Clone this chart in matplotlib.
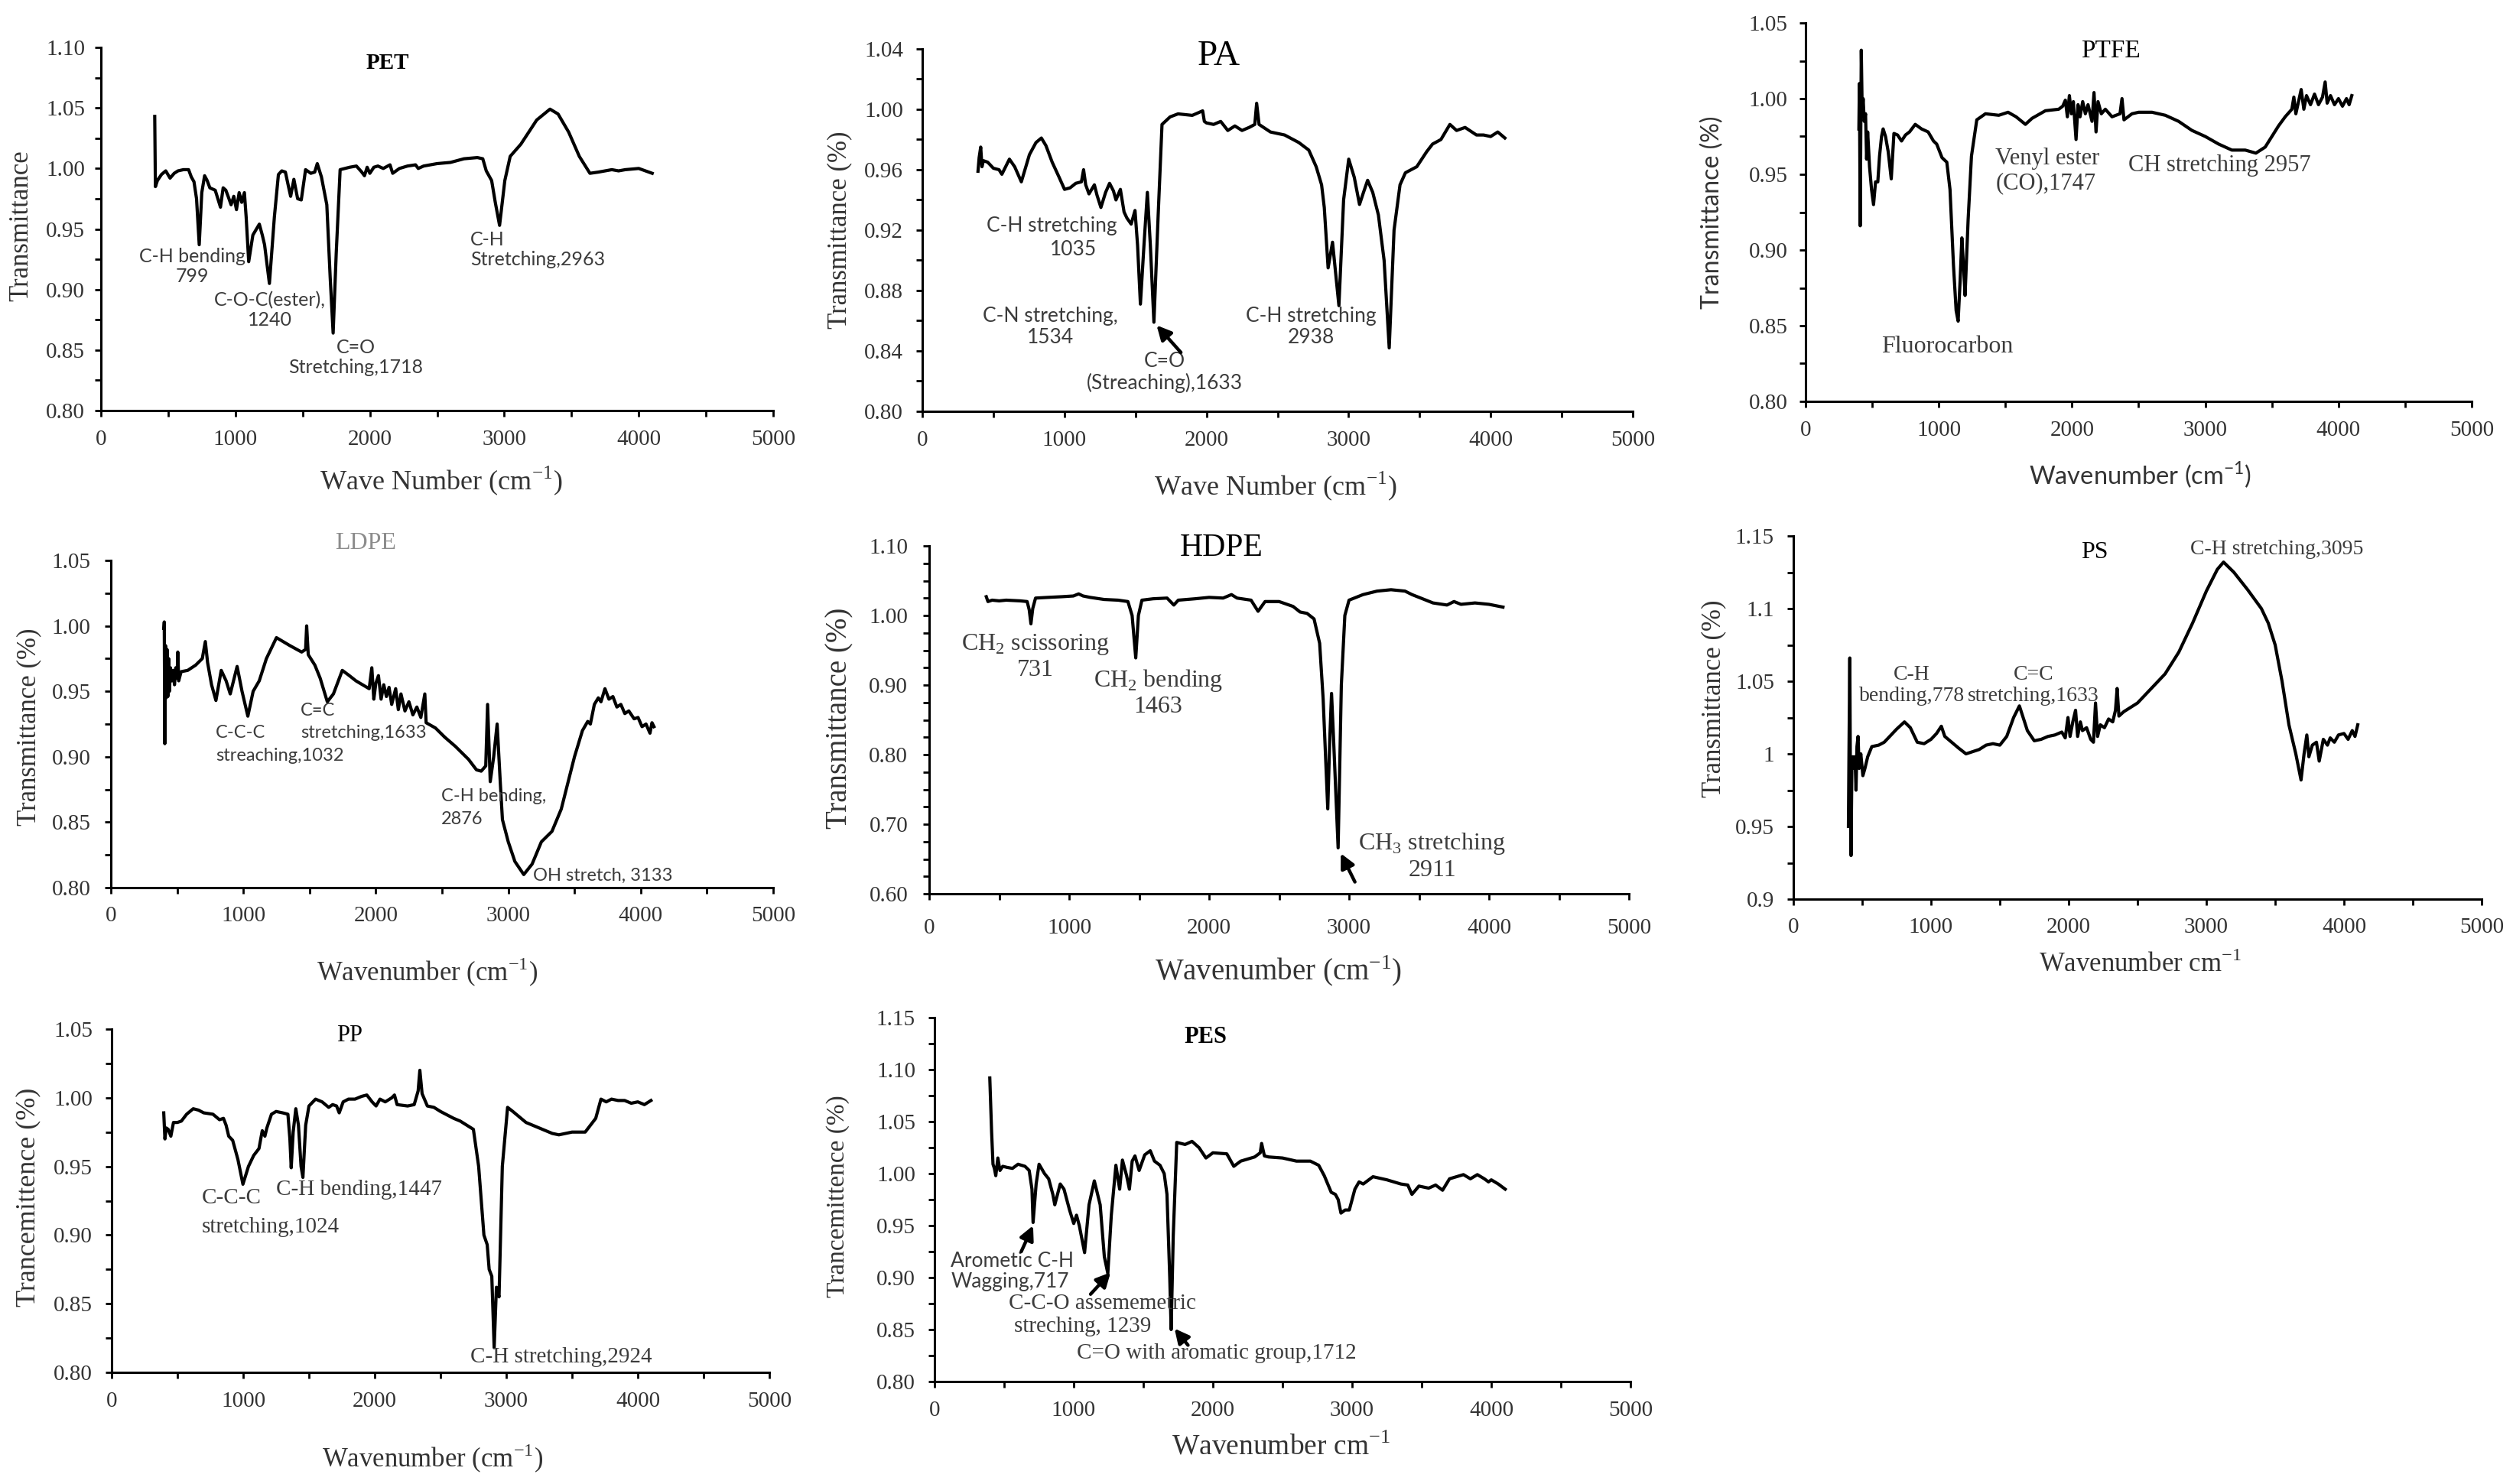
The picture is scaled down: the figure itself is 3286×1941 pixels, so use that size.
import matplotlib
matplotlib.use("Agg")
import matplotlib.pyplot as plt
from matplotlib.ticker import FixedLocator, FixedFormatter, MultipleLocator

W, H, DPI = 3287, 1941, 100
SERIF = ["Liberation Serif", "DejaVu Serif"]
SANS = ["Lato", "DejaVu Sans"]
plt.rcParams["font.family"] = SERIF

# ---------------------------------------------------------------- data
X_TICKS = [0, 1000, 2000, 3000, 4000, 5000]
X_TICK_LABELS = ["0", "1000", "2000", "3000", "4000", "5000"]

PET_WN = [400, 405, 420, 450, 482, 514, 545, 573, 613, 652, 672, 692, 711, 731, 750, 771, 790, 810, 850, 889,
          909, 929, 949, 968, 988, 1008, 1028, 1047, 1067, 1080, 1099, 1130, 1178, 1200, 1217, 1253, 1290, 1320,
          1345, 1372, 1395, 1411, 1435, 1463, 1490, 1522, 1561, 1590, 1609, 1640, 1680, 1705, 1727, 1750, 1779,
          1850, 1900, 1940, 1960, 1980, 2000, 2030, 2060, 2100, 2150, 2170, 2220, 2280, 2340, 2360, 2400, 2500,
          2600, 2700, 2800, 2840, 2866, 2906, 2933, 2965, 3004, 3044, 3123, 3241, 3340, 3400, 3479, 3558, 3637,
          3700, 3750, 3800, 3850, 3900, 4000, 4050, 4100]
PET_T = [1.043, 0.985, 0.990, 0.995, 0.998, 0.992, 0.996, 0.998, 0.999, 0.999, 0.993, 0.989, 0.975, 0.937, 0.980,
         0.994, 0.990, 0.984, 0.982, 0.968, 0.984, 0.982, 0.976, 0.970, 0.977, 0.966, 0.980, 0.972, 0.980, 0.960,
         0.923, 0.945, 0.954, 0.945, 0.937, 0.905, 0.960, 0.995, 0.998, 0.997, 0.985, 0.977, 0.991, 0.975, 0.974,
         0.999, 0.996, 0.997, 1.004, 0.993, 0.970, 0.910, 0.864, 0.930, 0.999, 1.001, 1.002, 0.997, 0.994, 1.001,
         0.996, 1.001, 1.002, 1.000, 1.003, 0.996, 1.000, 1.002, 1.003, 1.000, 1.002, 1.004, 1.005, 1.008, 1.009,
         1.008, 0.998, 0.990, 0.972, 0.953, 0.990, 1.010, 1.020, 1.040, 1.049, 1.045, 1.030, 1.010, 0.996, 0.997,
         0.998, 0.999, 0.998, 0.999, 1.000, 0.998, 0.996]

PA_WN = [392, 400, 411, 420, 430, 460, 500, 540, 560, 613, 650, 697, 754, 800, 838, 870, 914, 963, 1001, 1040,
         1080, 1120, 1135, 1150, 1173, 1211, 1230, 1257, 1290, 1318, 1345, 1363, 1394, 1420, 1440, 1470, 1497, 1515,
         1535, 1560, 1584, 1605, 1630, 1660, 1687, 1744, 1800, 1900, 1973, 1985, 2000, 2050, 2100, 2150, 2200,
         2250, 2300, 2340, 2353, 2370, 2450, 2550, 2650, 2720, 2772, 2810, 2829, 2856, 2887, 2932, 2965, 3001,
         3040, 3077, 3105, 3134, 3170, 3210, 3250, 3286, 3320, 3362, 3400, 3480, 3550, 3591, 3650, 3713, 3760,
         3820, 3900, 3950, 4000, 4050, 4100]
PA_T = [0.959, 0.968, 0.975, 0.962, 0.966, 0.965, 0.961, 0.960, 0.957, 0.967, 0.962, 0.952, 0.970, 0.978, 0.981,
        0.976, 0.965, 0.955, 0.947, 0.948, 0.951, 0.952, 0.960, 0.950, 0.944, 0.950, 0.943, 0.935, 0.945, 0.951,
        0.946, 0.940, 0.947, 0.932, 0.928, 0.924, 0.933, 0.910, 0.871, 0.910, 0.945, 0.910, 0.859, 0.930, 0.990,
        0.995, 0.997, 0.996, 0.999, 0.992, 0.991, 0.990, 0.992, 0.986, 0.989, 0.986, 0.988, 0.990, 1.004, 0.990,
        0.985, 0.983, 0.978, 0.973, 0.962, 0.950, 0.935, 0.895, 0.912, 0.870, 0.940, 0.967, 0.955, 0.937, 0.945,
        0.953, 0.945, 0.930, 0.900, 0.842, 0.920, 0.950, 0.958, 0.962, 0.972, 0.977, 0.980, 0.990, 0.986, 0.988,
        0.983, 0.983, 0.982, 0.985, 0.981]

PTFE_WN = [400, 404, 410, 418, 425, 432, 440, 450, 458, 466, 480, 495, 510, 525, 542, 555, 570, 582, 600, 620,
           643, 663, 690, 720, 750, 780, 823, 870, 920, 960, 984, 1024, 1060, 1084, 1110, 1130, 1145, 1160, 1173,
           1185, 1197, 1220, 1245, 1285, 1350, 1450, 1520, 1580, 1650, 1700, 1800, 1900, 1930, 1950, 1965, 1980,
           1995, 2010, 2030, 2045, 2060, 2080, 2100, 2120, 2150, 2165, 2180, 2195, 2220, 2250, 2300, 2360, 2375,
           2390, 2450, 2500, 2600, 2700, 2800, 2900, 3000, 3100, 3200, 3300, 3380, 3450, 3500, 3550, 3600, 3650,
           3665, 3680, 3700, 3720, 3740, 3760, 3790, 3820, 3850, 3880, 3900, 3915, 3940, 3970, 4000, 4030, 4060,
           4080, 4100]
PTFE_T = [0.980, 1.010, 0.916, 1.032, 0.990, 1.000, 0.985, 0.990, 0.960, 0.978, 0.955, 0.940, 0.930, 0.945, 0.945,
          0.962, 0.975, 0.980, 0.975, 0.965, 0.947, 0.977, 0.976, 0.972, 0.976, 0.978, 0.983, 0.980, 0.978, 0.972,
          0.970, 0.961, 0.958, 0.940, 0.890, 0.860, 0.853, 0.880, 0.908, 0.890, 0.870, 0.920, 0.962, 0.986, 0.990,
          0.989, 0.991, 0.988, 0.983, 0.987, 0.992, 0.993, 0.995, 0.999, 0.988, 1.002, 0.990, 0.998, 0.973, 0.996,
          0.988, 0.998, 0.990, 0.996, 0.985, 1.004, 0.978, 0.998, 0.990, 0.993, 0.988, 0.990, 1.000, 0.986, 0.990,
          0.991, 0.991, 0.989, 0.985, 0.979, 0.975, 0.970, 0.966, 0.966, 0.964, 0.968, 0.975, 0.982, 0.988, 0.993,
          1.001, 0.990, 0.998, 1.006, 0.993, 1.002, 0.996, 1.003, 0.996, 1.001, 1.011, 0.997, 1.002, 0.996, 1.000,
          0.995, 1.000, 0.996, 1.002]

LDPE_WN = [400, 403, 407, 412, 418, 424, 430, 436, 442, 450, 460, 470, 480, 490, 500, 505, 512, 530, 580, 640, 690,
           713, 730, 760, 793, 833, 870, 901, 953, 990, 1034, 1074, 1120, 1174, 1250, 1350, 1440, 1470, 1478, 1490,
           1540, 1580, 1634, 1680, 1747, 1800, 1850, 1900, 1950, 1970, 1985, 2000, 2020, 2040, 2060, 2080, 2100,
           2120, 2150, 2170, 2190, 2220, 2250, 2280, 2310, 2340, 2370, 2380, 2450, 2520, 2600, 2700, 2760, 2796,
           2830, 2844, 2864, 2890, 2916, 2940, 2956, 3000, 3050, 3117, 3180, 3250, 3330, 3400, 3450, 3500, 3560,
           3600, 3620, 3650, 3680, 3700, 3730, 3760, 3790, 3820, 3850, 3880, 3910, 3950, 3980, 4010, 4040, 4070,
           4085, 4100]
LDPE_T = [0.998, 1.003, 0.910, 0.985, 0.945, 0.982, 0.946, 0.975, 0.950, 0.968, 0.958, 0.966, 0.955, 0.968, 0.960,
          0.980, 0.958, 0.965, 0.966, 0.970, 0.975, 0.988, 0.972, 0.955, 0.943, 0.966, 0.958, 0.948, 0.969, 0.950,
          0.931, 0.950, 0.958, 0.975, 0.991, 0.985, 0.980, 0.982, 1.000, 0.978, 0.970, 0.960, 0.942, 0.948, 0.966,
          0.962, 0.958, 0.955, 0.952, 0.968, 0.944, 0.956, 0.962, 0.944, 0.955, 0.946, 0.953, 0.940, 0.952, 0.936,
          0.948, 0.935, 0.942, 0.932, 0.938, 0.930, 0.948, 0.926, 0.922, 0.915, 0.908, 0.898, 0.890, 0.889, 0.893,
          0.940, 0.881, 0.900, 0.925, 0.880, 0.852, 0.835, 0.820, 0.810, 0.818, 0.835, 0.843, 0.860, 0.880, 0.900,
          0.920, 0.927, 0.925, 0.940, 0.945, 0.942, 0.952, 0.944, 0.946, 0.938, 0.940, 0.933, 0.935, 0.929, 0.930,
          0.923, 0.925, 0.918, 0.926, 0.923]

HDPE_WN = [408, 420, 450, 500, 550, 650, 700, 715, 727, 740, 760, 850, 950, 1030, 1068, 1100, 1150, 1250, 1350,
           1420, 1450, 1476, 1495, 1520, 1600, 1700, 1748, 1780, 1900, 2000, 2100, 2160, 2200, 2300, 2350, 2400,
           2500, 2600, 2650, 2700, 2750, 2790, 2815, 2848, 2862, 2875, 2890, 2922, 2945, 2970, 3000, 3100, 3200,
           3300, 3400, 3450, 3550, 3600, 3700, 3750, 3800, 3900, 4000, 4100]
HDPE_T = [1.027, 1.020, 1.022, 1.021, 1.022, 1.021, 1.020, 1.008, 0.988, 1.010, 1.025, 1.026, 1.027, 1.028, 1.031,
          1.028, 1.026, 1.023, 1.022, 1.020, 1.000, 0.939, 1.000, 1.022, 1.024, 1.025, 1.015, 1.022, 1.024, 1.026,
          1.025, 1.030, 1.025, 1.022, 1.006, 1.020, 1.020, 1.013, 1.005, 1.003, 0.995, 0.960, 0.880, 0.722, 0.820,
          0.888, 0.820, 0.666, 0.900, 1.000, 1.022, 1.030, 1.035, 1.037, 1.035, 1.030, 1.022, 1.018, 1.015, 1.020,
          1.016, 1.018, 1.016, 1.012]

PS_WN = [400, 404, 410, 414, 419, 425, 432, 440, 448, 455, 462, 470, 478, 490, 505, 520, 540, 570, 620, 660, 700,
         750, 807, 850, 900, 950, 1000, 1040, 1075, 1100, 1150, 1200, 1254, 1350, 1400, 1450, 1500, 1550, 1600,
         1642, 1700, 1750, 1800, 1850, 1900, 1950, 1975, 1995, 2010, 2030, 2050, 2065, 2085, 2100, 2130, 2160,
         2180, 2195, 2210, 2230, 2260, 2290, 2320, 2340, 2352, 2365, 2400, 2500, 2600, 2700, 2800, 2900, 3000,
         3080, 3125, 3200, 3300, 3400, 3450, 3500, 3550, 3600, 3650, 3688, 3710, 3730, 3745, 3770, 3800, 3820,
         3850, 3880, 3900, 3930, 3960, 4000, 4030, 4060, 4080, 4100]
PS_T = [0.950, 1.000, 1.066, 0.990, 0.930, 0.990, 0.998, 0.990, 0.998, 0.975, 1.005, 1.012, 0.990, 1.000, 0.985,
        0.990, 0.998, 1.005, 1.006, 1.008, 1.012, 1.017, 1.022, 1.018, 1.008, 1.007, 1.010, 1.014, 1.019, 1.012,
        1.008, 1.004, 1.000, 1.003, 1.006, 1.007, 1.006, 1.012, 1.025, 1.033, 1.016, 1.009, 1.010, 1.012, 1.013,
        1.015, 1.011, 1.025, 1.012, 1.022, 1.030, 1.012, 1.022, 1.016, 1.018, 1.010, 1.008, 1.035, 1.012, 1.020,
        1.018, 1.024, 1.022, 1.030, 1.045, 1.026, 1.029, 1.035, 1.045, 1.055, 1.070, 1.090, 1.112, 1.127, 1.132,
        1.125, 1.113, 1.100, 1.090, 1.075, 1.050, 1.020, 1.000, 0.982, 1.000, 1.013, 0.998, 1.006, 1.008, 0.995,
        1.010, 1.006, 1.011, 1.008, 1.013, 1.014, 1.010, 1.016, 1.012, 1.020]

PP_WN = [396, 405, 415, 430, 450, 470, 500, 530, 570, 620, 660, 700, 770, 820, 850, 870, 890, 920, 960, 998, 1040,
         1080, 1120, 1145, 1165, 1180, 1215, 1250, 1300, 1340, 1355, 1365, 1380, 1400, 1420, 1440, 1454, 1475,
         1500, 1550, 1600, 1650, 1680, 1710, 1730, 1760, 1800, 1850, 1900, 1940, 1980, 2010, 2040, 2080, 2130,
         2150, 2170, 2250, 2300, 2330, 2343, 2360, 2400, 2450, 2500, 2600, 2650, 2700, 2750, 2790, 2830, 2855,
         2870, 2890, 2908, 2925, 2945, 2970, 3010, 3050, 3150, 3250, 3350, 3400, 3500, 3600, 3680, 3720, 3760,
         3800, 3850, 3900, 3950, 4000, 4050, 4100]
PP_T = [0.989, 0.970, 0.978, 0.977, 0.972, 0.982, 0.982, 0.983, 0.988, 0.992, 0.991, 0.989, 0.988, 0.984, 0.985,
        0.980, 0.972, 0.969, 0.955, 0.937, 0.950, 0.958, 0.963, 0.976, 0.972, 0.978, 0.988, 0.990, 0.989, 0.988,
        0.970, 0.949, 0.975, 0.992, 0.980, 0.950, 0.942, 0.980, 0.994, 0.999, 0.997, 0.993, 0.995, 0.994, 0.989,
        0.997, 0.999, 0.999, 1.001, 1.002, 0.997, 0.994, 0.999, 0.997, 1.000, 1.002, 0.995, 0.994, 0.995, 1.005,
        1.020, 1.003, 0.994, 0.993, 0.990, 0.985, 0.983, 0.980, 0.977, 0.950, 0.900, 0.893, 0.875, 0.870, 0.818,
        0.862, 0.855, 0.950, 0.993, 0.990, 0.982, 0.978, 0.974, 0.973, 0.975, 0.975, 0.985, 0.999, 0.997, 0.999,
        0.998, 0.998, 0.996, 0.997, 0.995, 0.998]

PES_WN = [397, 410, 420, 430, 440, 455, 470, 490, 520, 560, 600, 650, 680, 700, 708, 730, 751, 790, 820, 850, 864,
          903, 930, 970, 1000, 1020, 1040, 1078, 1110, 1148, 1190, 1220, 1245, 1270, 1303, 1330, 1350, 1380, 1400,
          1420, 1440, 1470, 1510, 1550, 1580, 1620, 1650, 1670, 1690, 1700, 1715, 1740, 1800, 1850, 1900, 1950,
          2000, 2100, 2150, 2200, 2300, 2340, 2350, 2370, 2400, 2500, 2600, 2700, 2760, 2800, 2850, 2880, 2900,
          2920, 2950, 2980, 3020, 3050, 3080, 3150, 3250, 3350, 3400, 3430, 3480, 3550, 3600, 3650, 3700, 3800,
          3850, 3900, 3950, 3980, 4000, 4050, 4100]
PES_T = [1.092, 1.040, 1.009, 1.005, 0.998, 1.015, 1.003, 1.007, 1.006, 1.005, 1.009, 1.007, 1.003, 0.985, 0.953,
         0.990, 1.009, 1.000, 0.995, 0.980, 0.970, 0.990, 0.985, 0.965, 0.952, 0.960, 0.950, 0.924, 0.970, 0.993,
         0.970, 0.920, 0.904, 0.960, 1.008, 0.985, 1.013, 0.998, 0.985, 1.012, 1.017, 1.003, 1.018, 1.022, 1.012,
         1.008, 1.000, 0.980, 0.900, 0.850, 0.940, 1.030, 1.028, 1.031, 1.025, 1.015, 1.020, 1.019, 1.007, 1.012,
         1.016, 1.020, 1.029, 1.017, 1.016, 1.015, 1.012, 1.012, 1.008, 0.998, 0.982, 0.980, 0.975, 0.962, 0.965,
         0.965, 0.985, 0.992, 0.990, 0.997, 0.994, 0.990, 0.989, 0.980, 0.988, 0.986, 0.989, 0.984, 0.995, 0.999,
         0.995, 0.999, 0.995, 0.992, 0.994, 0.990, 0.985]

PET_YTICKS = [0.80, 0.85, 0.90, 0.95, 1.00, 1.05, 1.10]
PA_YTICKS = [0.80, 0.84, 0.88, 0.92, 0.96, 1.00, 1.04]
PTFE_YTICKS = [0.80, 0.85, 0.90, 0.95, 1.00, 1.05]
LDPE_YTICKS = [0.80, 0.85, 0.90, 0.95, 1.00, 1.05]
HDPE_YTICKS = [0.60, 0.70, 0.80, 0.90, 1.00, 1.10]
PS_YTICKS = [0.90, 0.95, 1.00, 1.05, 1.10, 1.15]
PP_YTICKS = [0.80, 0.85, 0.90, 0.95, 1.00, 1.05]
PES_YTICKS = [0.80, 0.85, 0.90, 0.95, 1.00, 1.05, 1.10, 1.15]
PS_YTICK_LABELS = ["0.9", "0.95", "1", "1.05", "1.1", "1.15"]

CM = r"cm$^{\mathregular{-1}}$"
ANN_C = "#3c3c3c"
TXT_C = "#333333"

# ---------------------------------------------------------------- panels
panels = [
    dict(wn=PET_WN, t=PET_T, yt=PET_YTICKS, ytl=None, ymin=0.025, box=(132, 62, 1011, 537), ypad=9, xpad=12,
         title=("PET", 507, 82, 21, "bold", "black"),
         xl=("Wave Number (" + CM + ")", 577, 629, 26, SERIF),
         yl=("Transmittance", 28, 295, 25, SERIF),
         ann=[("C-H bending\n799", 680, 0.919, "center", 18, SANS),
              ("C-O-C(ester),\n1240", 1257, 0.883, "center", 18, SANS),
              ("C=O\nStretching,1718", 1897, 0.844, "center", 18, SANS),
              ("C-H\nStretching,2963", 2747, 0.933, "left", 18, SANS)],
         arrows=[]),
    dict(wn=PA_WN, t=PA_T, yt=PA_YTICKS, ytl=None, ymin=0.02, box=(1206, 64, 2135, 538), ypad=12, xpad=12,
         title=("PA", 1594, 74, 34, "normal", "black"),
         xl=("Wave Number (" + CM + ")", 1668, 636, 26, SERIF),
         yl=("Transmittance (%)", 1098, 301, 25, SERIF),
         ann=[("C-H stretching", 910, 0.923, "center", 19, SANS),
              ("1035", 1063, 0.907, "center", 19, SANS),
              ("C-N stretching,\n1534", 899, 0.856, "center", 19, SANS),
              ("C=O\n(Streaching),1633", 1706, 0.826, "center", 19, SANS),
              ("C-H stretching\n2938", 2738, 0.856, "center", 19, SANS)],
         arrows=[((1649, 0.857), (1820, 0.839))]),
    dict(wn=PTFE_WN, t=PTFE_T, yt=PTFE_YTICKS, ytl=None, ymin=0.025, box=(2361, 30, 3232, 525), ypad=11, xpad=12,
         title=("PTFE", 2760, 67, 24, "normal", "black"),
         xl=("Wavenumber (" + CM + ")", 2799, 621, 23.5, SANS),
         yl=("Transmittance (%)", 2239, 278, 23, SANS),
         ann=[("Fluorocarbon", 1064, 0.836, "center", 23, SERIF),
              ("Venyl ester\n(CO),1747", 1426, 0.952, "left", 22, SERIF),
              ("CH stretching 2957", 2422, 0.956, "left", 22, SERIF)],
         arrows=[]),
    dict(wn=LDPE_WN, t=LDPE_T, yt=LDPE_YTICKS, ytl=None, ymin=0.025, box=(145, 733, 1011, 1161), ypad=13, xpad=11,
         title=("LDPE", 478, 711, 23, "normal", "#8c8c8c"),
         xl=("Wavenumber (" + CM + ")", 559, 1272, 25, SERIF),
         yl=("Transmittance (%)", 38, 951, 25, SERIF),
         ann=[("C-C-C", 793, 0.918, "left", 17, SANS),
              ("streaching,1032", 793, 0.901, "left", 17, SANS),
              ("C=C", 1434, 0.9355, "left", 17, SANS),
              ("stretching,1633", 1434, 0.918, "left", 17, SANS),
              ("C-H bending,", 2496, 0.870, "left", 17, SANS),
              ("2876", 2496, 0.852, "left", 17, SANS),
              ("OH stretch, 3133", 3189, 0.809, "left", 17, SANS)],
         arrows=[]),
    dict(wn=HDPE_WN, t=HDPE_T, yt=HDPE_YTICKS, ytl=None, ymin=0.025, box=(1215, 714, 2130, 1169), ypad=14, xpad=17,
         title=("HDPE", 1597, 717, 30, "normal", "black"),
         xl=("Wavenumber (" + CM + ")", 1672, 1270, 28, SERIF),
         yl=("Transmittance (%)", 1098, 939, 28, SERIF),
         ann=[("CH$_\\mathregular{2}$ scissoring\n731", 761, 0.941, "center", 23, SERIF),
              ("CH$_\\mathregular{2}$ bending\n1463", 1636, 0.889, "center", 23, SERIF),
              ("CH$_\\mathregular{3}$ stretching\n2911", 3594, 0.654, "center", 23, SERIF)],
         arrows=[((2941, 0.658), (3042, 0.617))]),
    dict(wn=PS_WN, t=PS_T, yt=PS_YTICKS, ytl=PS_YTICK_LABELS, ymin=0.025, box=(2345, 701, 3245, 1176), ypad=12,
         xpad=11,
         title=("PS", 2739, 722, 23, "normal", "black"),
         xl=("Wavenumber " + CM, 2799, 1262, 25, SERIF),
         yl=("Transmittance (%)", 2241, 914, 25, SERIF),
         ann=[("C-H\nbending,778", 860, 1.047, "center", 20, SERIF),
              ("C=C\nstretching,1633", 1744, 1.047, "center", 20, SERIF),
              ("C-H stretching,3095", 3513, 1.141, "center", 20, SERIF)],
         arrows=[]),
    dict(wn=PP_WN, t=PP_T, yt=PP_YTICKS, ytl=None, ymin=0.025, box=(146, 1346, 1006, 1795), ypad=12, xpad=12,
         title=("PP", 457, 1354, 22, "normal", "black"),
         xl=("Wavenumber (" + CM + ")", 566, 1908, 25, SERIF),
         yl=("Trancemittence (%)", 37, 1566, 26, SERIF),
         ann=[("C-C-C", 687, 0.927, "left", 21, SERIF),
              ("stretching,1024", 687, 0.906, "left", 21, SERIF),
              ("C-H bending,1447", 1252, 0.933, "left", 21, SERIF),
              ("C-H stretching,2924", 2726, 0.811, "left", 21, SERIF)],
         arrows=[]),
    dict(wn=PES_WN, t=PES_T, yt=PES_YTICKS, ytl=None, ymin=0.025, box=(1222, 1331, 2132, 1807), ypad=12, xpad=12,
         title=("PES", 1576, 1356, 22, "bold", "black"),
         xl=("Wavenumber " + CM, 1675, 1892, 27, SERIF),
         yl=("Trancemittence (%)", 1096, 1565, 24, SERIF),
         ann=[("Arometic C-H", 117, 0.916, "left", 19, SANS),
              ("Wagging,717", 117, 0.896, "left", 19, SANS),
              ("C-C-O assememetric", 533, 0.875, "left", 21, SERIF),
              ("streching, 1239", 572, 0.853, "left", 21, SERIF),
              ("C=O with aromatic group,1712", 1023, 0.827, "left", 21, SERIF)],
         arrows=[((708, 0.950), (623, 0.925)), ((1265, 0.905), (1121, 0.884)), ((1724, 0.851), (1821, 0.835))]),
]

fig = plt.figure(figsize=(W / DPI, H / DPI), dpi=DPI, facecolor="white")

for p in panels:
    l, t, r, b = p["box"]
    ax = fig.add_axes([l / W, 1 - b / H, (r - l) / W, (b - t) / H])
    ax.plot(p["wn"], p["t"], color="black", lw=3.0, solid_joinstyle="round")
    ax.set_xlim(0, 5000)
    ax.set_ylim(p["yt"][0], p["yt"][-1])
    for s in ("top", "right"):
        ax.spines[s].set_visible(False)
    for s in ("left", "bottom"):
        ax.spines[s].set_linewidth(2.2)
        ax.spines[s].set_color("black")
    ax.xaxis.set_major_locator(FixedLocator(X_TICKS))
    ax.xaxis.set_major_formatter(FixedFormatter(X_TICK_LABELS))
    ax.xaxis.set_minor_locator(MultipleLocator(500))
    ax.yaxis.set_major_locator(FixedLocator(p["yt"]))
    labels = p["ytl"] if p["ytl"] else ["%.2f" % v for v in p["yt"]]
    ax.yaxis.set_major_formatter(FixedFormatter(labels))
    ax.yaxis.set_minor_locator(MultipleLocator(p["ymin"]))
    ax.tick_params(which="both", direction="out", length=6, width=2, color="black")
    ax.tick_params(axis="y", which="major", pad=p["ypad"], labelsize=21, labelcolor=TXT_C)
    ax.tick_params(axis="x", which="major", pad=p["xpad"], labelsize=21, labelcolor=TXT_C)
    for lab in ax.get_xticklabels() + ax.get_yticklabels():
        lab.set_fontfamily(SERIF)

    # title
    txt, tx, ty, ts, tw, tc = p["title"]
    fig.text(tx / W, 1 - ty / H, txt, ha="center", va="center", fontsize=ts, fontweight=tw, color=tc,
             family=SERIF)
    # axis labels
    txt, lx, ly, ls, lf = p["xl"]
    ax.set_xlabel(txt, fontsize=ls, family=lf, color=TXT_C, va="center", ha="center")
    ax.xaxis.set_label_coords((lx - l) / (r - l), (b - ly) / (b - t))
    txt, lx, ly, ls, lf = p["yl"]
    ax.set_ylabel(txt, fontsize=ls, family=lf, color=TXT_C, va="center", ha="center")
    ax.yaxis.set_label_coords((lx - l) / (r - l), (b - ly) / (b - t))

    for (txt, x, y, ha, fs, fam) in p["ann"]:
        ax.text(x, y, txt, ha=ha, va="center", fontsize=fs, family=fam, color=ANN_C,
                linespacing=1.15, multialignment="center" if ha == "center" else "left", clip_on=False)
    for (head, tail) in p["arrows"]:
        ax.annotate("", xy=head, xytext=tail,
                    arrowprops=dict(arrowstyle="-|>", lw=3.2, color="black", mutation_scale=28,
                                    shrinkA=0, shrinkB=0))

fig.savefig("out.png", dpi=DPI, facecolor="white")
